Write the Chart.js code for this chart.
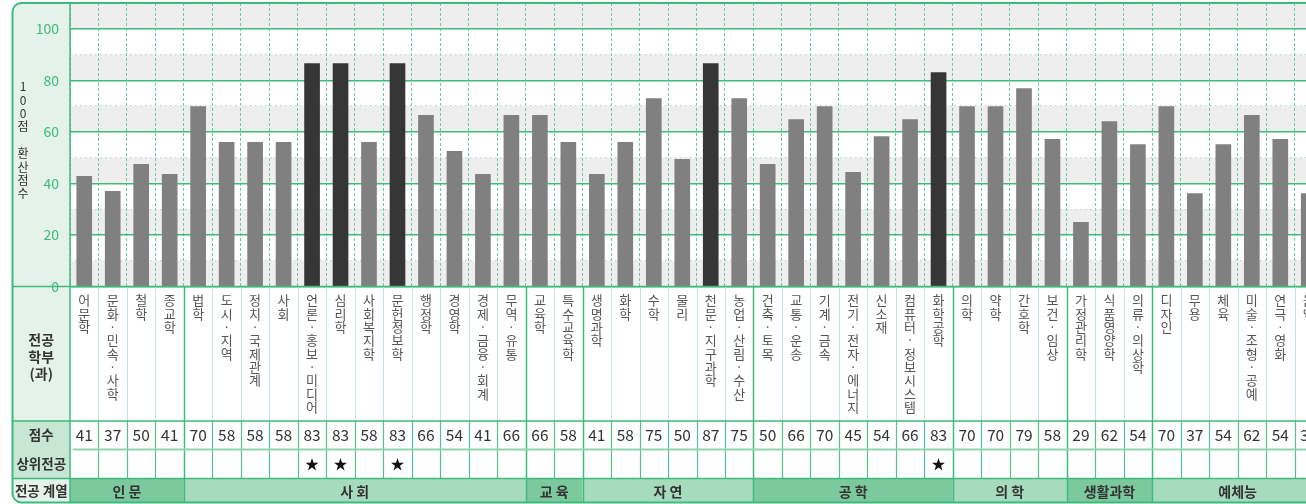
<!DOCTYPE html>
<html><head><meta charset="utf-8">
<script src="https://cdn.jsdelivr.net/npm/chart.js@4.4.1/dist/chart.umd.min.js"></script>
<style>
html,body{margin:0;padding:0;background:#fff;overflow:hidden;width:1306px;height:504px}
canvas{display:block}
</style></head><body>
<canvas id="c" width="1332" height="504" style="width:1332px;height:504px"></canvas>
<script>
const categories = ['어문학','문화·민속·사학','철학','종교학','법학','도시·지역','정치·국제관계','사회','언론·홍보·미디어','심리학','사회복지학','문헌정보학','행정학','경영학','경제·금융·회계','무역·유통','교육학','특수교육학','생명과학','화학','수학','물리','천문·지구과학','농업·산림·수산','건축·토목','교통·운송','기계·금속','전기·전자·에너지','신소재','컴퓨터·정보시스템','화학공학','의학','약학','간호학','보건·임상','가정관리학','식품영양학','의류·의상학','디자인','무용','체육','미술·조형·공예','연극·영화','음악'];
const barValues = [42.7,36.9,47.4,43.5,69.8,55.9,55.9,55.9,86.5,86.5,55.9,86.5,66.4,52.4,43.5,66.4,66.4,55.9,43.5,55.9,72.9,49.3,86.5,72.9,47.4,64.8,69.8,44.3,58.2,64.8,83.0,69.8,69.8,76.8,57.1,24.9,64.0,55.1,69.8,36.1,55.1,66.4,57.1,36.1];
const scores = [41,37,50,41,70,58,58,58,83,83,58,83,66,54,41,66,66,58,41,58,75,50,87,75,50,66,70,45,54,66,83,70,70,79,58,29,62,54,70,37,54,62,54,37];
const topMajor = [0,0,0,0,0,0,0,0,1,1,0,1,0,0,0,0,0,0,0,0,0,0,0,0,0,0,0,0,0,0,1,0,0,0,0,0,0,0,0,0,0,0,0,0];
const emphasized = [0,0,0,0,0,0,0,0,1,1,0,1,0,0,0,0,0,0,0,0,0,0,1,0,0,0,0,0,0,0,1,0,0,0,0,0,0,0,0,0,0,0,0,0];
const groupNames = ['인 문','사 회','교 육','자 연','공 학','의 학','생활과학','예체능'];
const groupSizes = [4,12,2,6,7,4,3,6];
const yLabelTicks = [0,20,40,60,80,100];
const yTitle = '100점 환산점수';
const rowLabels = ['점수','상위전공','전공 계열'];
const headLabel = ['전공','학부','(과)'];

const FONT = "'Noto Sans CJK KR','Noto Sans',sans-serif";
const GREEN = '#3dba7c';
const ROWS = [421, 449.5, 478.5, 504];
const BOX = {left: 12.5, top: 3, right: 1327, bottom: 502.5, r: 9};

function boxPath(ctx){
  const {left:l, top:t, right:r, bottom:b, r:rad} = BOX;
  ctx.beginPath();
  ctx.moveTo(l+rad, t); ctx.lineTo(r-rad, t); ctx.arcTo(r, t, r, t+rad, rad);
  ctx.lineTo(r, b-rad); ctx.arcTo(r, b, r-rad, b, rad);
  ctx.lineTo(l+rad, b); ctx.arcTo(l, b, l, b-rad, rad);
  ctx.lineTo(l, t+rad); ctx.arcTo(l, t, l+rad, t, rad);
  ctx.closePath();
}
function groupBounds(){
  const out = []; let s = 0;
  groupSizes.forEach(n => { out.push([s, s+n]); s += n; });
  return out;
}
function colEdge(x, i){
  const cw = x.getPixelForValue(1) - x.getPixelForValue(0);
  return x.getPixelForValue(i) - cw/2;
}

const tablePlugin = {
  id: 'table',
  beforeDraw(chart){
    const {ctx, chartArea: ca, scales: {x, y}} = chart;
    ctx.save();
    ctx.fillStyle = '#fff'; ctx.fillRect(0, 0, chart.width, chart.height);
    boxPath(ctx); ctx.clip();
    ctx.fillStyle = '#eeeeee';
    for (let v = 0; v <= 100; v += 20){
      const y1 = y.getPixelForValue(v+10), y0 = y.getPixelForValue(v);
      ctx.fillRect(ca.left, y1, ca.right - ca.left, y0 - y1);
    }
    ctx.fillStyle = '#e4f2ea'; ctx.fillRect(0, 0, ca.left, ROWS[0]);
    ctx.fillStyle = '#c8e6d4'; ctx.fillRect(0, ROWS[0], ca.left, ROWS[2]-ROWS[0]);
    ctx.fillStyle = '#e4f2ea'; ctx.fillRect(0, ROWS[2], ca.left, ROWS[3]-ROWS[2]);
    groupBounds().forEach(([a,b], gi) => {
      ctx.fillStyle = gi % 2 === 0 ? '#7bc99c' : '#a7dbbd';
      const x0 = colEdge(x, a), x1 = colEdge(x, b);
      ctx.fillRect(x0, ROWS[2], x1 - x0, ROWS[3] - ROWS[2]);
    });
    ctx.restore();
  },
  afterDraw(chart){
    const {ctx, chartArea: ca, scales: {x, y}} = chart;
    const bounds = groupBounds();
    const gEdges = new Set(bounds.map(b => b[0]).concat([categories.length]));
    ctx.save();
    boxPath(ctx); ctx.clip();
    for (let i = 1; i <= categories.length; i++){
      const px = Math.round(colEdge(x, i)) + 0.5;
      const isG = gEdges.has(i);
      ctx.lineWidth = isG ? 1.5 : 1;
      ctx.strokeStyle = isG ? GREEN : '#c4e8d3';
      ctx.beginPath(); ctx.moveTo(px, ca.bottom); ctx.lineTo(px, ROWS[0]); ctx.stroke();
      ctx.strokeStyle = isG ? GREEN : '#55c08a';
      ctx.lineWidth = isG ? 1.5 : 1.2;
      ctx.beginPath(); ctx.moveTo(px, ROWS[0]); ctx.lineTo(px, ROWS[2]); ctx.stroke();
      if (isG){ ctx.beginPath(); ctx.moveTo(px, ROWS[2]); ctx.lineTo(px, ROWS[3]); ctx.stroke(); }
    }
    ctx.strokeStyle = GREEN; ctx.lineWidth = 1.5;
    ctx.beginPath(); ctx.moveTo(0, ca.bottom); ctx.lineTo(chart.width, ca.bottom); ctx.stroke();
    ctx.beginPath(); ctx.moveTo(0, ROWS[0]); ctx.lineTo(chart.width, ROWS[0]); ctx.stroke();
    ctx.beginPath(); ctx.moveTo(0, ROWS[2]); ctx.lineTo(chart.width, ROWS[2]); ctx.stroke();
    ctx.strokeStyle = '#8fd5ae'; ctx.lineWidth = 2;
    ctx.beginPath(); ctx.moveTo(ca.left + 3, ROWS[1]); ctx.lineTo(chart.width, ROWS[1]); ctx.stroke();
    ctx.strokeStyle = GREEN; ctx.lineWidth = 1.5;
    ctx.beginPath(); ctx.moveTo(ca.left, 0); ctx.lineTo(ca.left, chart.height); ctx.stroke();

    ctx.textAlign = 'center'; ctx.textBaseline = 'middle';
    ctx.fillStyle = '#333'; ctx.font = `15.5px ${FONT}`;
    const r0 = (ROWS[0]+ROWS[1])/2, r1 = (ROWS[1]+ROWS[2])/2, r2 = (ROWS[2]+ROWS[3])/2;
    scores.forEach((s, i) => ctx.fillText(String(s), x.getPixelForValue(i), r0));
    ctx.fillStyle = '#111'; ctx.font = `14px ${FONT}`;
    topMajor.forEach((t, i) => { if (t) ctx.fillText('★', x.getPixelForValue(i), r1); });
    ctx.fillStyle = '#333'; ctx.font = `bold 14px ${FONT}`;
    bounds.forEach(([a,b], gi) => {
      const cx = (colEdge(x, a) + colEdge(x, b)) / 2;
      ctx.fillText(groupNames[gi], cx, r2);
    });
    const lx = (BOX.left + ca.left) / 2;
    ctx.font = `bold 14px ${FONT}`;
    headLabel.forEach((t, i) => ctx.fillText(t, lx, 340 + i * 17));
    ctx.font = `bold 13.5px ${FONT}`;
    ctx.fillText(rowLabels[0], lx, r0);
    ctx.fillText(rowLabels[1], lx, r1);
    ctx.fillText(rowLabels[2], lx, r2);
    ctx.fillStyle = '#333'; ctx.font = `12px ${FONT}`;
    yTitle.split('').forEach((ch, i) => ctx.fillText(ch, 23, 86.7 + i * 13.4));
    ctx.restore();
    ctx.save();
    ctx.strokeStyle = GREEN; ctx.lineWidth = 2;
    boxPath(ctx); ctx.stroke();
    ctx.restore();
  }
};

new Chart(document.getElementById('c'), {
  type: 'bar',
  data: {
    labels: categories,
    datasets: [{
      data: barValues,
      backgroundColor: emphasized.map(e => e ? '#363636' : '#808080'),
      borderWidth: 0,
      barThickness: 15
    }]
  },
  options: {
    responsive: false,
    animation: false,
    devicePixelRatio: 1,
    layout: {padding: {left: 12, top: 3, right: 9, bottom: 0}},
    plugins: {legend: {display: false}, tooltip: {enabled: false}},
    scales: {
      x: {
        offset: true,
        grid: {offset: true, drawTicks: false, color: '#6ccc97', lineWidth: 1},
        border: {display: false, dash: [3, 2]},
        ticks: {
          autoSkip: false, maxRotation: 0, minRotation: 0, padding: 7,
          color: '#555', font: {family: FONT, size: 13, lineHeight: 1.03},
          callback: (v, i) => categories[i].split('')
        },
        afterFit: s => { s.height = 504 - 286.5; s.paddingLeft = 0; s.paddingRight = 0; }
      },
      y: {
        min: 0, max: 110,
        grid: {
          drawTicks: false,
          color: c => c.tick.value >= 110 ? 'rgba(0,0,0,0)' : (c.tick.value % 20 === 0 ? GREEN : '#bcd8c9'),
          lineWidth: c => c.tick.value % 20 === 0 ? 1.5 : 1.3
        },
        border: {display: false, dash: c => c.tick && c.tick.value % 20 !== 0 ? [1.5, 3.5] : []},
        ticks: {
          stepSize: 10, padding: 11, color: GREEN,
          font: {family: FONT, size: 14},
          callback: v => yLabelTicks.includes(v) ? String(v) : ''
        },
        afterFit: s => { s.width = 58; s.paddingTop = 0; s.paddingBottom = 0; }
      }
    }
  },
  plugins: [tablePlugin]
});
</script>
</body></html>
